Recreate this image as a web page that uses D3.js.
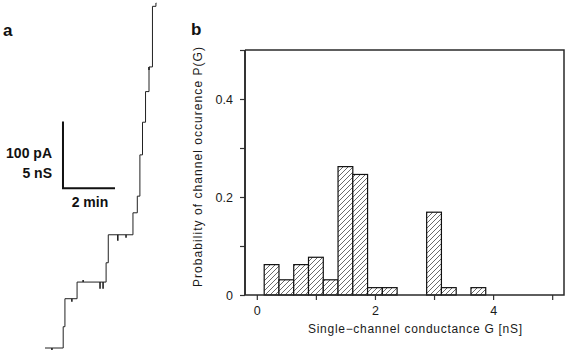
<!DOCTYPE html>
<html lang="en">
  <head>
    <meta charset="utf-8" />
    <title>Single-channel steps and conductance histogram</title>
    <script src="https://cdnjs.cloudflare.com/ajax/libs/d3/7.8.5/d3.min.js"></script>
    <style type="text/css">
      body { margin: 0; background: #fff; }
      svg { display: block; font-family: Arial, "Liberation Sans", sans-serif; }
      .panel { font-size: 17px; font-weight: bold; fill: #111; }
      .scaleText { font-size: 14px; font-weight: bold; fill: #111; }
      .axis text { font-size: 12.5px; fill: #1a1a1a; }
      .axisTitle { font-size: 12px; fill: #1a1a1a; }
    </style>
  </head>

  <body>
    <div id="chart"></div>

    <script>
      // Panel a: current trace as steps (time in s, current in pA).
      const stepTimes = [0, 42, 46, 74, 141, 146, 203, 213, 219, 225, 232, 240, 248, 256];
      const stepLevels = [0, 32, 74, 99, 128, 170, 203, 228, 290, 339, 385, 422, 513, 518];
      const endTime = 257;

      // Brief transients on the trace: time (s) and excursion (pA).
      const spikeTimes = [16, 62, 88, 127, 134, 168, 187, 240];
      const spikeSizes = [-3, -4.5, 3, -10, -10, -9, -4.5, -4.5];

      // Panel b: histogram of single-channel conductance.
      const binCenters = [0.25, 0.5, 0.75, 1.0, 1.25, 1.5, 1.75, 2.0, 2.25, 3.0, 3.25, 3.75];
      const probs = [0.062, 0.031, 0.062, 0.077, 0.031, 0.262, 0.246, 0.015, 0.015, 0.169, 0.015, 0.015];
      const binWidth = 0.25;
      const xTicks = [0, 1, 2, 3, 4, 5];
      const xTickLabels = ['0', '', '2', '', '4', ''];
      const yTicks = [0, 0.1, 0.2, 0.3, 0.4, 0.5];
      const yTickLabels = ['0', '', '0.2', '', '0.4', ''];

      const width = 567;
      const height = 353;

      const svg = d3.select('#chart').append('svg')
        .attr('width', width)
        .attr('height', height);

      // ---------- panel a ----------
      const t = d3.scaleLinear().domain([0, 60]).range([45, 71]);
      const cur = d3.scaleLinear().domain([0, 100]).range([348, 281.4]);

      svg.append('text').attr('class', 'panel').attr('x', 3).attr('y', 36).text('a');

      const tracePts = stepTimes.map((d, i) => [d, stepLevels[i]]);
      tracePts.push([endTime, stepLevels[stepLevels.length - 1]]);

      const traceLine = d3.line()
        .curve(d3.curveStepAfter)
        .x(d => t(d[0]))
        .y(d => cur(d[1]));

      svg.append('path')
        .datum(tracePts)
        .attr('fill', 'none')
        .attr('stroke', '#222')
        .attr('stroke-width', 1)
        .attr('d', traceLine);

      // level at a given time
      function levelAt (time) {
        let lv = stepLevels[0];
        stepTimes.forEach((s, i) => { if (time >= s) lv = stepLevels[i]; });
        return lv;
      }

      svg.append('g').selectAll('line')
        .data(spikeTimes)
        .join('line')
          .attr('x1', d => t(d))
          .attr('x2', d => t(d))
          .attr('y1', d => cur(levelAt(d)))
          .attr('y2', (d, i) => cur(levelAt(d) + spikeSizes[i]))
          .attr('stroke', '#222')
          .attr('stroke-width', 1.6);

      // Scale bar: 100 pA (5 nS) and 2 min.
      const sbT = 41.5;
      const sbI = 240;
      svg.append('path')
        .attr('fill', 'none')
        .attr('stroke', '#111')
        .attr('stroke-width', 2)
        .attr('d', `M${t(sbT)},${cur(sbI + 100)} L${t(sbT)},${cur(sbI)} L${t(sbT + 120)},${cur(sbI)}`);

      svg.append('text').attr('class', 'scaleText')
        .attr('x', 52).attr('y', 158).attr('text-anchor', 'end').text('100 pA');
      svg.append('text').attr('class', 'scaleText')
        .attr('x', 52).attr('y', 178).attr('text-anchor', 'end').text('5 nS');
      svg.append('text').attr('class', 'scaleText')
        .attr('x', (t(sbT) + t(sbT + 120)) / 2 + 1).attr('y', 207).attr('text-anchor', 'middle').text('2 min');

      // ---------- panel b ----------
      const x = d3.scaleLinear().domain([-0.2, 5.2]).range([245, 564]);
      const y = d3.scaleLinear().domain([0, 0.5]).range([295, 50]);
      const [x0, x1] = x.range();
      const [y0, y1] = y.range();

      svg.append('text').attr('class', 'panel').attr('x', 191).attr('y', 35).text('b');

      const defs = svg.append('defs');
      const pat = defs.append('pattern')
        .attr('id', 'hatch')
        .attr('patternUnits', 'userSpaceOnUse')
        .attr('width', 5)
        .attr('height', 5);
      pat.append('rect').attr('width', 5).attr('height', 5).attr('fill', '#fff');
      pat.append('path')
        .attr('d', 'M-1,1 L1,-1 M0,5 L5,0 M4,6 L6,4')
        .attr('stroke', '#444')
        .attr('stroke-width', 0.8);

      svg.append('g').selectAll('rect')
        .data(binCenters)
        .join('rect')
          .attr('x', d => x(d - binWidth / 2))
          .attr('width', x(binWidth) - x(0))
          .attr('y', (d, i) => y(probs[i]))
          .attr('height', (d, i) => y(0) - y(probs[i]))
          .attr('fill', 'url(#hatch)')
          .attr('stroke', '#111')
          .attr('stroke-width', 1.2);

      const xAxis = d3.axisBottom(x)
        .tickValues(xTicks)
        .tickSize(5)
        .tickPadding(6)
        .tickFormat((d, i) => xTickLabels[i]);

      const yAxis = d3.axisLeft(y)
        .tickValues(yTicks)
        .tickSize(5)
        .tickPadding(7)
        .tickFormat((d, i) => yTickLabels[i]);

      const gx = svg.append('g')
        .attr('class', 'axis')
        .attr('transform', `translate(0,${y0})`)
        .call(xAxis);

      const gy = svg.append('g')
        .attr('class', 'axis')
        .attr('transform', `translate(${x0},0)`)
        .call(yAxis);

      [gx, gy].forEach(g => {
        g.select('.domain').remove();
        g.selectAll('.tick line').attr('stroke', '#333').attr('stroke-width', 1.2);
        g.selectAll('.tick text').attr('font-family', null).attr('font-size', null);
      });

      // frame: top, right, bottom, then heavier left axis
      const frame = svg.append('g').attr('stroke', '#2a2a2a').attr('fill', 'none');
      frame.append('path')
        .attr('stroke-width', 1.5)
        .attr('d', `M${x0},${y1} H${x1} V${y0} H${x0}`);
      frame.append('line')
        .attr('x1', x0).attr('x2', x0)
        .attr('y1', y0).attr('y2', y1)
        .attr('stroke-width', 1.9);

      svg.append('text').attr('class', 'axisTitle')
        .attr('x', 415).attr('y', 333)
        .attr('text-anchor', 'middle')
        .attr('textLength', 214)
        .attr('lengthAdjust', 'spacing')
        .text('Single\u2212channel conductance G [nS]');

      svg.append('text').attr('class', 'axisTitle')
        .attr('transform', 'translate(202,167) rotate(-90)')
        .attr('text-anchor', 'middle')
        .attr('textLength', 240)
        .attr('lengthAdjust', 'spacing')
        .text('Probability of channel occurence P(G)');
    </script>
  </body>
</html>
